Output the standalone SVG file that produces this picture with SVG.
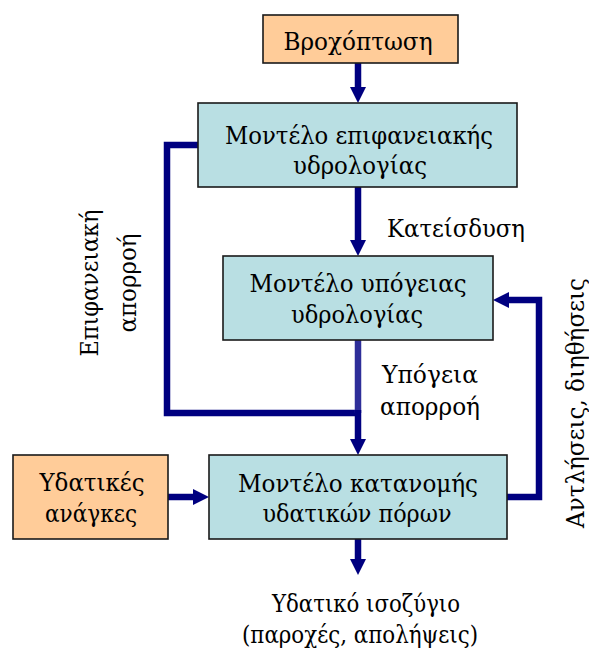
<svg xmlns="http://www.w3.org/2000/svg" width="589" height="653" viewBox="0 0 589 653">
<style>
  .box { stroke: #1a1a1a; stroke-width: 1.6; }
  .ext { fill: #FFCC99; }
  .mod { fill: #B9DFE3; }
  text { font-family: "DejaVu Serif", "Liberation Serif", serif; font-size: 25px; fill: #000; }
  .c { text-anchor: middle; }
  .con { fill: none; stroke: #000080; stroke-width: 6.5; stroke-linejoin: miter; }
</style>
<defs>
  <marker id="ah" viewBox="0 0 16 16" refX="6" refY="8" markerWidth="16" markerHeight="16" markerUnits="userSpaceOnUse" orient="auto">
    <path d="M0,0 L16,8 L0,16 z" fill="#000080"/>
  </marker>
</defs>
<rect width="589" height="653" fill="#fff"/>

<g id="connectors">
  <path class="con" d="M358,63 V93" marker-end="url(#ah)"/>
  <path class="con" d="M358,187 V246" marker-end="url(#ah)"/>
  <path class="con" d="M198,145 H167 V413 H358"/>
  <path class="con" d="M358,340 V413" style="stroke:#2E2E99"/>
  <path class="con" d="M358,410 V445" marker-end="url(#ah)"/>
  <path class="con" d="M168,497 H199" marker-end="url(#ah)"/>
  <path class="con" d="M507,497 H539 V300 H503" marker-end="url(#ah)"/>
  <path class="con" d="M358,539 V565" marker-end="url(#ah)"/>
</g>

<g id="rain">
  <rect class="box ext" x="263" y="15" width="195" height="48"/>
  <text class="c" x="358" y="50" textLength="149" lengthAdjust="spacingAndGlyphs">Βροχόπτωση</text>
</g>

<g id="surface">
  <rect class="box mod" x="198" y="103" width="319" height="84"/>
  <text class="c" x="359" y="144" textLength="268" lengthAdjust="spacingAndGlyphs">Μοντέλο επιφανειακής</text>
  <text class="c" x="360" y="174" textLength="134" lengthAdjust="spacingAndGlyphs">υδρολογίας</text>
</g>

<g id="subsurface">
  <rect class="box mod" x="223" y="256" width="270" height="84"/>
  <text class="c" x="358" y="292" textLength="217" lengthAdjust="spacingAndGlyphs">Μοντέλο υπόγειας</text>
  <text class="c" x="357" y="323" textLength="132" lengthAdjust="spacingAndGlyphs">υδρολογίας</text>
</g>

<g id="allocation">
  <rect class="box mod" x="209" y="455" width="298" height="84"/>
  <text class="c" x="358" y="492" textLength="240" lengthAdjust="spacingAndGlyphs">Μοντέλο κατανομής</text>
  <text class="c" x="357" y="522" textLength="189" lengthAdjust="spacingAndGlyphs">υδατικών πόρων</text>
</g>

<g id="needs">
  <rect class="box ext" x="13" y="455" width="155" height="84"/>
  <text class="c" x="92" y="491" textLength="105" lengthAdjust="spacingAndGlyphs">Υδατικές</text>
  <text class="c" x="91" y="522" textLength="92" lengthAdjust="spacingAndGlyphs">ανάγκες</text>
</g>

<g id="labels">
  <text x="387" y="237" textLength="138" lengthAdjust="spacingAndGlyphs">Κατείσδυση</text>
  <text class="c" x="430" y="383" textLength="96" lengthAdjust="spacingAndGlyphs">Υπόγεια</text>
  <text class="c" x="430" y="415" textLength="100" lengthAdjust="spacingAndGlyphs">απορροή</text>
  <text class="c" transform="translate(98,283) rotate(-90)" textLength="147" lengthAdjust="spacingAndGlyphs">Επιφανειακή</text>
  <text class="c" transform="translate(136,283) rotate(-90)" textLength="99" lengthAdjust="spacingAndGlyphs">απορροή</text>
  <text class="c" transform="translate(584,403) rotate(-90)" textLength="250" lengthAdjust="spacingAndGlyphs">Αντλήσεις, διηθήσεις</text>
  <text class="c" x="366" y="612" textLength="188" lengthAdjust="spacingAndGlyphs">Υδατικό ισοζύγιο</text>
  <text class="c" x="360" y="643" textLength="236" lengthAdjust="spacingAndGlyphs">(παροχές, απολήψεις)</text>
</g>
</svg>
